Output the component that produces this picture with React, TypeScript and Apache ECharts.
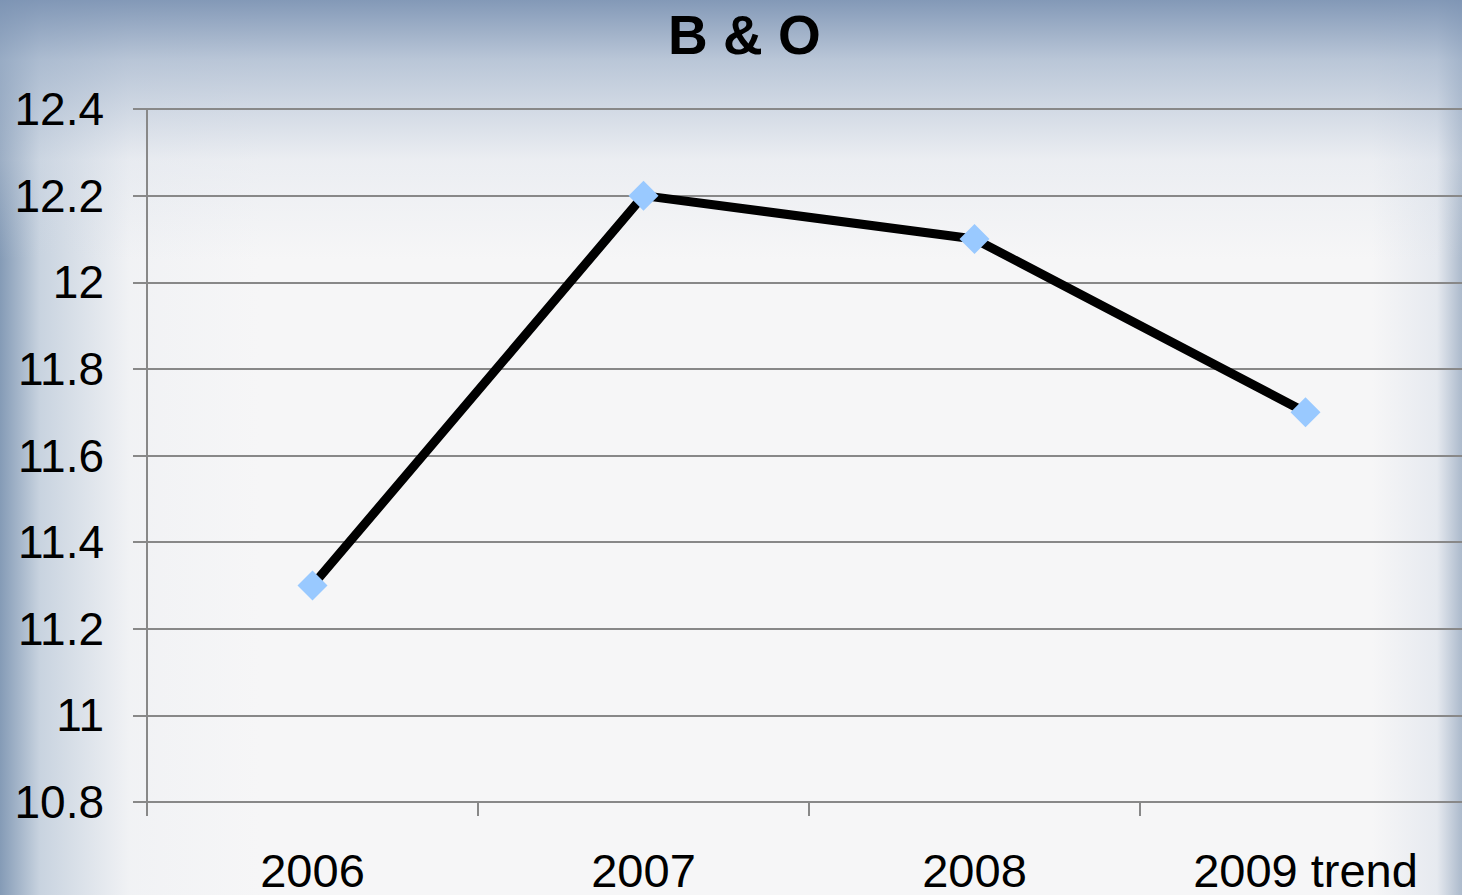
import React, { useEffect, useRef } from "react";
import * as echarts from "echarts";

const categories = ["2006", "2007", "2008", "2009 trend"];
const values = [11.3, 12.2, 12.1, 11.7];
const titleText = "B & O";

export default function App() {
  const ref = useRef<HTMLDivElement>(null);
  useEffect(() => {
    document.body.style.margin = "0";
    const chart = echarts.init(ref.current!, null, { renderer: "svg" });
    chart.setOption({
      animation: false,
      title: {
        text: titleText,
        left: 663,
        top: 2,
        textStyle: { fontFamily: "Liberation Sans", fontWeight: "bold", fontSize: 55, color: "#000" },
      },
      grid: {
        left: 147,
        width: 1324,
        top: 109,
        bottom: 93,
        containLabel: false,
        outerBoundsMode: "none",
      },
      xAxis: {
        type: "category",
        data: categories,
        boundaryGap: true,
        axisLine: { lineStyle: { color: "#888", width: 2 } },
        axisTick: { show: true, length: 14, lineStyle: { color: "#888", width: 2 } },
        axisLabel: {
          fontFamily: "Liberation Sans",
          fontSize: 47,
          lineHeight: 40,
          color: "#000",
          margin: 48,
        },
      },
      yAxis: {
        type: "value",
        min: 10.8,
        max: 12.4,
        interval: 0.2,
        axisLine: { show: true, lineStyle: { color: "#888", width: 2 } },
        axisTick: { show: true, length: 14, lineStyle: { color: "#888", width: 2 } },
        splitLine: { show: true, lineStyle: { color: "#888", width: 2 } },
        axisLabel: {
          fontFamily: "Liberation Sans",
          fontSize: 46,
          color: "#000",
          margin: 43,
          formatter: (v: number) => String(Math.round(v * 10) / 10),
        },
      },
      series: [
        {
          type: "line",
          data: values,
          lineStyle: { color: "#000", width: 9 },
          symbol: "diamond",
          symbolSize: 30,
          itemStyle: { color: "#99c9ff", borderWidth: 0 },
          z: 3,
        },
      ],
    });
    return () => chart.dispose();
  }, []);
  return (
    <div
      ref={ref}
      style={{
        width: 1462,
        height: 895,
        background:
          "linear-gradient(to bottom, rgba(125,148,180,0.95) 0px, rgba(160,178,202,0.7) 60px, rgba(210,218,230,0.3) 160px, rgba(255,255,255,0) 260px)," +
          "linear-gradient(to right, rgba(120,145,175,0.9) 0px, rgba(170,188,208,0.6) 40px, rgba(220,226,235,0.2) 130px, rgba(255,255,255,0) 260px)," +
          "linear-gradient(to left, rgba(140,160,185,0.7) 0px, rgba(200,210,225,0.35) 25px, rgba(255,255,255,0) 90px)," +
          "#f6f6f7",
      }}
    />
  );
}
